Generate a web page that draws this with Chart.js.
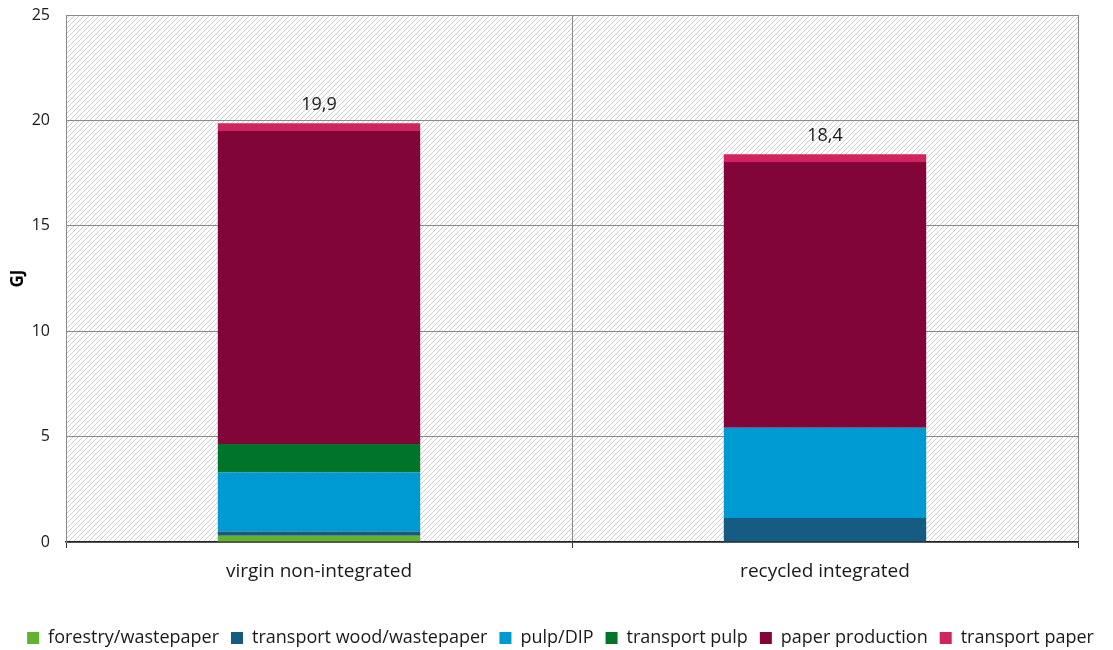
<!DOCTYPE html>
<html lang="en">
<head>
<meta charset="UTF-8">
<title>Energy use per product — GJ</title>
<script src="https://cdn.jsdelivr.net/npm/chart.js@4"></script>
<style>
  * { margin: 0; padding: 0; box-sizing: border-box; }
  body { background: #fff; width: 1113px; height: 650px; overflow: hidden; }
  #wrap { position: relative; width: 1113px; height: 650px; }
</style>
</head>
<body>
<div id="wrap"><canvas id="chart"></canvas></div>
<script>
const categories = ['virgin non-integrated', 'recycled integrated']
const seriesNames = ['forestry/wastepaper', 'transport wood/wastepaper', 'pulp/DIP', 'transport pulp', 'paper production', 'transport paper']
const forestry = [0.3, 0]
const transportWood = [0.2, 1.14]
const pulpDip = [2.8, 4.28]
const transportPulp = [1.35, 0]
const paperProduction = [14.85, 12.61]
const transportPaper = [0.36, 0.37]
const yTicks = [0, 5, 10, 15, 20, 25]

const colors = ['#63b22f', '#155b82', '#009ad3', '#007428', '#82053a', '#d02360']
const values = [forestry, transportWood, pulpDip, transportPulp, paperProduction, transportPaper]

const font = "'Open Sans', 'Liberation Sans', sans-serif"

// light diagonal hatch behind the plot area
const hatch = (() => {
  const c = document.createElement('canvas')
  c.width = 5; c.height = 5
  const g = c.getContext('2d')
  g.fillStyle = '#ffffff'
  g.fillRect(0, 0, 5, 5)
  g.strokeStyle = '#cfcfcf'
  g.lineWidth = 1
  g.beginPath()
  g.moveTo(-1, 6); g.lineTo(6, -1)
  g.stroke()
  return g.createPattern(c, 'repeat')
})()

const bgPlugin = {
  id: 'hatchBg',
  beforeDraw (chart) {
    const { ctx, chartArea: a } = chart
    ctx.save()
    ctx.fillStyle = hatch
    ctx.fillRect(a.left, a.top, a.right - a.left, a.bottom - a.top)
    ctx.restore()
  }
}

const totalsPlugin = {
  id: 'totals',
  afterDatasetsDraw (chart) {
    const { ctx } = chart
    const y = chart.scales.y
    const x = chart.scales.x
    ctx.save()
    ctx.font = `18px ${font}`
    ctx.fillStyle = '#1a1a1a'
    ctx.textAlign = 'center'
    ctx.textBaseline = 'bottom'
    categories.forEach((_, i) => {
      const total = values.reduce((s, arr) => s + arr[i], 0)
      ctx.fillText(total.toFixed(1).replace('.', ','), x.getPixelForValue(i), y.getPixelForValue(total) - 9)
    })
    ctx.restore()
  }
}

new Chart(document.getElementById('chart'), {
  type: 'bar',
  data: {
    labels: categories,
    datasets: seriesNames.map((name, i) => ({
      label: name,
      data: values[i],
      backgroundColor: colors[i],
      borderWidth: 0,
      barPercentage: 0.4,
      categoryPercentage: 1
    }))
  },
  options: {
    responsive: true,
    maintainAspectRatio: false,
    animation: false,
    layout: { padding: { top: 15, right: 0, left: 8, bottom: -7 } },
    plugins: {
      legend: {
        position: 'bottom',
        labels: {
          boxWidth: 12,
          boxHeight: 12,
          padding: 12,
          color: '#1a1a1a',
          font: { family: font, size: 18 }
        }
      },
      tooltip: { enabled: false }
    },
    scales: {
      x: {
        stacked: true,
        grid: { offset: true, color: '#8a8a8a', drawTicks: true, tickLength: 6, tickColor: '#333' },
        border: { color: '#222', width: 1.5 },
        ticks: { color: '#1a1a1a', padding: 12, font: { family: font, size: 19 } },
        afterFit (s) { s.height = 75 }
      },
      y: {
        stacked: true,
        min: 0,
        max: 25,
        afterBuildTicks (s) { s.ticks = yTicks.map(v => ({ value: v })) },
        grid: { color: '#8a8a8a', drawTicks: false },
        border: { color: '#8a8a8a' },
        ticks: { color: '#1a1a1a', padding: 16, font: { family: font, size: 16 } },
        title: { display: true, text: 'GJ', color: '#000', padding: 0, font: { family: font, size: 17, weight: 'bold' } },
        afterFit (s) { s.width = 58; s.paddingTop = 0; s.paddingBottom = 0 }
      },
      // empty right-hand gutter so the legend can use the full width
      gutter: {
        position: 'right',
        display: true,
        grid: { display: false, drawTicks: false },
        border: { display: false },
        ticks: { display: false },
        afterFit (s) { s.width = 35; s.paddingTop = 0; s.paddingBottom = 0 }
      }
    }
  },
  plugins: [bgPlugin, totalsPlugin]
})
</script>
</body>
</html>
